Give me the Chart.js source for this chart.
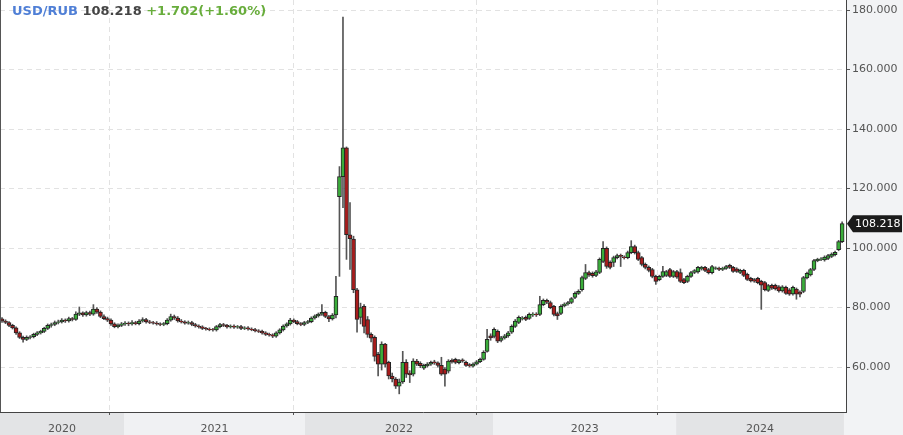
<!DOCTYPE html>
<html>
<head>
<meta charset="utf-8">
<script src="https://cdn.jsdelivr.net/npm/chart.js@4"></script>
<style>
  html, body { margin: 0; padding: 0; background: #fff; }
  #wrap { position: relative; width: 903px; height: 435px; }
  #title {
    position: absolute; left: 12px; top: 3px;
    font: bold 13px "DejaVu Sans", sans-serif; line-height: 16px;
    white-space: nowrap;
  }
  #title .pair { color: #4f7fd6; }
  #title .last { color: #444; }
  #title .chg { color: #68ad3c; }
</style>
</head>
<body>
<div id="wrap">
  <canvas id="fxChart" width="903" height="435"></canvas>
  <div id="title"><span class="pair"></span> <span class="last"></span> <span class="chg"></span></div>
</div>
<script>
// USD/RUB weekly candles, ~May 2020 .. Nov 2024 (index = week)
const pair = 'USD/RUB';
const lastPrice = 108.218;
const dayChange = 1.702;
const dayChangePct = 1.60;

const opens = [
  76.2, 75.5, 75.0, 74.0, 73.2, 71.5, 70.0, 69.3, 70.0, 70.2,
  71.0, 71.5, 72.0, 73.0, 74.0, 74.3, 75.0, 75.2, 75.8, 75.5,
  76.3, 76.0, 77.8, 78.2, 77.5, 78.3, 77.8, 79.5, 78.5, 77.0,
  76.3, 75.8, 74.5, 73.6, 74.0, 74.5, 74.8, 74.5, 75.0, 74.6,
  75.5, 76.0, 75.2, 75.0, 74.8, 74.5, 74.3, 74.6, 75.8, 77.0,
  76.5, 75.5, 75.2, 74.8, 75.0, 74.3, 73.8, 73.5, 73.0, 72.8,
  72.6, 72.5, 73.6, 74.3, 74.0, 73.5, 73.8, 73.4, 73.6, 73.0,
  73.2, 72.8, 72.6, 72.2, 72.0, 71.5, 71.0, 70.8, 70.4, 71.5,
  72.5, 73.8, 74.5, 75.8, 75.3, 74.6, 74.3, 75.0, 75.3, 76.5,
  77.2, 77.8, 78.4, 77.0, 76.2, 77.5, 117.3, 124.0, 133.7, 104.5,
  103.0, 86.0, 76.7, 80.4, 76.0, 71.0, 70.0, 64.3, 61.0, 67.7,
  61.6, 57.0, 56.0, 53.6, 55.0, 61.6, 58.0, 57.6, 62.0, 61.3,
  59.6, 60.4, 61.0, 61.8, 61.4, 60.6, 59.3, 58.6, 62.3, 62.6,
  61.5, 62.4, 61.6, 60.8, 60.3, 61.0, 61.8, 62.6, 65.3, 70.5,
  70.3, 72.0, 69.0, 69.8, 70.5, 71.7, 73.7, 75.0, 76.2, 76.7,
  76.4, 77.5, 77.8, 77.7, 81.0, 82.4, 81.7, 80.4, 78.0, 78.0,
  80.6, 81.2, 81.7, 83.4, 84.8, 86.0, 89.8, 91.8, 91.5, 90.8,
  91.8, 95.5, 99.9, 95.2, 95.2, 96.8, 97.6, 97.0, 96.8, 98.5,
  100.5, 98.5, 96.8, 94.5, 93.5, 92.8, 90.5, 89.4, 90.5, 90.8,
  92.8, 90.5, 92.1, 91.8, 89.4, 88.8, 90.5, 91.8, 92.0, 93.0,
  93.5, 92.8, 91.7, 93.2, 93.2, 92.8, 93.2, 94.2, 93.5, 93.0,
  91.8, 92.5, 91.2, 89.8, 89.4, 89.8, 88.8, 88.4, 85.8, 87.5,
  87.5, 87.0, 85.6, 86.8, 86.0, 84.6, 86.2, 85.2, 85.4, 90.0,
  91.0, 92.8, 95.8, 96.2, 96.0, 96.5, 97.2, 97.8, 99.5, 102.2
];
const highs = [
  76.6, 75.9, 75.3, 74.4, 73.5, 71.9, 70.4, 70.5, 70.6, 71.4,
  71.9, 72.4, 73.4, 74.5, 74.8, 75.5, 75.8, 76.3, 76.2, 76.8,
  76.7, 78.6, 80.2, 78.6, 78.8, 78.8, 81.0, 80.0, 78.9, 77.6,
  76.8, 76.2, 74.9, 74.5, 75.0, 75.3, 75.2, 75.6, 75.4, 76.0,
  76.6, 76.4, 75.7, 75.4, 75.3, 74.9, 75.0, 76.3, 77.8, 77.5,
  77.0, 76.0, 75.6, 75.5, 75.4, 74.7, 74.2, 73.9, 73.4, 73.2,
  73.0, 74.0, 74.7, 74.7, 74.4, 74.2, 74.2, 74.0, 74.0, 73.6,
  73.6, 73.2, 73.0, 72.6, 72.4, 71.9, 71.4, 71.2, 71.9, 72.9,
  74.2, 74.9, 76.4, 76.2, 75.7, 75.0, 75.4, 75.7, 76.9, 77.6,
  78.2, 81.0, 78.8, 77.4, 78.0, 90.5, 127.4, 177.7, 134.0, 115.3,
  104.0, 86.5, 81.5, 81.0, 77.0, 71.5, 70.5, 65.0, 68.5, 68.0,
  62.0, 58.0, 56.5, 56.0, 65.3, 62.5, 58.8, 62.8, 62.6, 61.8,
  61.0, 61.5, 62.0, 62.3, 61.8, 63.3, 59.8, 62.5, 62.8, 63.0,
  62.6, 62.8, 62.0, 61.2, 61.4, 62.2, 63.0, 65.5, 72.7, 71.2,
  73.2, 72.5, 70.3, 71.0, 72.0, 74.2, 76.0, 77.2, 77.0, 77.2,
  78.2, 78.3, 78.3, 83.8, 82.9, 82.9, 82.2, 80.8, 78.5, 80.9,
  81.6, 82.1, 83.4, 85.3, 86.0, 90.6, 94.5, 92.3, 92.0, 92.5,
  96.7, 102.2, 100.4, 95.7, 97.3, 98.0, 98.0, 97.4, 99.0, 102.5,
  101.0, 99.0, 97.2, 95.0, 94.0, 93.2, 90.9, 90.9, 93.9, 92.5,
  93.2, 92.5, 92.5, 93.0, 89.8, 90.9, 92.2, 92.8, 93.9, 93.9,
  93.9, 93.2, 94.2, 93.7, 93.6, 93.6, 94.2, 94.6, 93.9, 93.4,
  92.9, 92.9, 91.6, 90.2, 89.8, 90.2, 89.2, 88.8, 87.8, 87.9,
  87.9, 87.4, 87.4, 87.2, 86.4, 87.2, 86.6, 85.6, 90.5, 91.9,
  93.2, 96.2, 96.6, 96.8, 97.4, 97.9, 98.4, 99.0, 102.6, 108.8
];
const lows = [
  75.0, 74.6, 73.6, 72.8, 71.0, 69.6, 68.4, 68.9, 69.5, 69.8,
  70.6, 71.1, 71.6, 72.6, 73.4, 73.9, 74.5, 74.8, 75.0, 75.1,
  75.5, 75.7, 77.3, 77.0, 77.1, 77.3, 77.4, 78.0, 76.6, 75.9,
  75.3, 74.0, 73.2, 73.2, 73.6, 74.0, 73.9, 74.1, 74.2, 74.2,
  75.1, 74.8, 74.6, 74.4, 74.1, 73.9, 73.9, 74.2, 75.4, 76.0,
  75.1, 74.8, 74.4, 74.4, 73.9, 73.4, 73.1, 72.6, 72.4, 72.2,
  72.1, 72.1, 73.2, 73.6, 73.1, 73.1, 73.0, 73.0, 72.6, 72.6,
  72.4, 72.2, 71.8, 71.6, 71.1, 70.6, 70.4, 69.9, 70.0, 71.1,
  72.1, 73.4, 74.1, 74.9, 74.2, 73.9, 73.9, 74.6, 74.9, 76.1,
  76.8, 77.4, 76.6, 75.3, 75.8, 76.5, 90.5, 113.6, 96.2, 92.8,
  85.0, 71.7, 74.5, 71.5, 70.0, 68.5, 62.0, 57.0, 59.0, 60.0,
  56.0, 55.0, 52.8, 51.0, 54.5, 56.5, 54.8, 57.0, 60.5, 59.8,
  59.2, 60.0, 60.6, 60.9, 60.0, 57.2, 53.6, 58.0, 61.3, 61.1,
  61.1, 61.6, 60.2, 60.0, 60.0, 60.7, 61.5, 62.3, 65.0, 69.0,
  69.8, 68.2, 68.5, 69.4, 70.0, 71.3, 73.3, 74.6, 75.8, 75.6,
  76.0, 77.0, 77.0, 77.3, 80.6, 81.3, 79.6, 77.2, 76.0, 77.6,
  80.2, 80.8, 81.3, 83.0, 84.4, 85.5, 89.4, 90.5, 90.2, 90.4,
  91.4, 95.1, 93.2, 93.0, 93.8, 96.4, 93.8, 96.3, 96.4, 98.1,
  98.0, 95.8, 94.0, 93.0, 92.0, 90.0, 87.8, 89.0, 90.1, 90.4,
  90.1, 90.1, 89.8, 88.4, 88.0, 88.4, 90.1, 91.4, 91.6, 92.6,
  92.1, 91.3, 91.3, 92.8, 92.4, 92.4, 92.8, 93.1, 91.8, 91.8,
  91.4, 90.4, 89.1, 88.6, 88.5, 88.0, 79.4, 85.6, 85.4, 86.1,
  85.9, 85.2, 85.2, 84.4, 84.1, 84.2, 82.8, 83.6, 85.0, 89.6,
  90.6, 92.4, 95.4, 95.8, 95.6, 96.1, 96.8, 97.4, 99.1, 101.8
];
const closes = [
  75.5, 75.0, 74.0, 73.2, 71.5, 70.0, 69.3, 70.0, 70.2, 71.0,
  71.5, 72.0, 73.0, 74.0, 74.3, 75.0, 75.2, 75.8, 75.5, 76.3,
  76.0, 77.8, 78.2, 77.5, 78.3, 77.8, 79.5, 78.5, 77.0, 76.3,
  75.8, 74.5, 73.6, 74.0, 74.5, 74.8, 74.5, 75.0, 74.6, 75.5,
  76.0, 75.2, 75.0, 74.8, 74.5, 74.3, 74.6, 75.8, 77.0, 76.5,
  75.5, 75.2, 74.8, 75.0, 74.3, 73.8, 73.5, 73.0, 72.8, 72.6,
  72.5, 73.6, 74.3, 74.0, 73.5, 73.8, 73.4, 73.6, 73.0, 73.2,
  72.8, 72.6, 72.2, 72.0, 71.5, 71.0, 70.8, 70.4, 71.5, 72.5,
  73.8, 74.5, 75.8, 75.3, 74.6, 74.3, 75.0, 75.3, 76.5, 77.2,
  77.8, 78.4, 77.0, 76.2, 77.5, 83.8, 124.0, 133.7, 104.5, 103.2,
  86.0, 76.0, 80.0, 73.7, 71.0, 69.7, 63.6, 61.0, 67.7, 61.0,
  57.0, 56.0, 53.6, 55.0, 61.6, 57.6, 57.4, 62.0, 61.0, 60.5,
  60.6, 61.0, 61.6, 61.4, 60.6, 57.6, 57.6, 62.0, 61.8, 61.6,
  62.2, 62.0, 60.6, 60.4, 61.0, 61.8, 62.6, 65.0, 69.3, 69.8,
  72.7, 68.7, 69.8, 70.5, 71.5, 73.7, 75.5, 76.7, 76.5, 76.0,
  77.7, 77.8, 77.5, 81.0, 82.4, 81.8, 80.0, 77.7, 77.2, 80.4,
  81.2, 81.7, 83.0, 84.8, 85.5, 90.1, 91.8, 91.0, 90.7, 92.0,
  96.2, 99.9, 93.8, 93.5, 96.8, 97.5, 97.2, 96.8, 98.5, 100.5,
  98.5, 96.2, 94.5, 93.5, 92.5, 90.5, 88.8, 90.5, 92.1, 92.1,
  90.5, 92.1, 90.2, 88.8, 88.4, 90.5, 91.8, 92.4, 93.5, 93.5,
  92.5, 91.7, 93.8, 93.4, 92.8, 93.2, 93.8, 93.5, 92.2, 92.2,
  92.5, 90.8, 89.5, 89.0, 88.9, 88.4, 87.5, 86.0, 87.4, 86.5,
  86.3, 85.6, 87.0, 84.8, 84.5, 86.8, 84.5, 84.5, 90.1, 91.5,
  92.8, 95.8, 96.2, 96.4, 97.0, 97.5, 98.0, 98.6, 102.2, 108.218
];

// x axis: week index where each year band starts (last entry = end of data)
const yearLabels = ['2020', '2021', '2022', '2023', '2024'];
const yearEdges = [-0.57, 34.7, 86.2, 139.7, 191.8, 239.5];
const gridWeeks = [30.7, 82.8, 134.9, 186.6];
const yTicks = [60, 80, 100, 120, 140, 160, 180];
const xMin = -0.57, xMax = 240.1;
const yMin = 44.9, yMax = 183.4;

const UP = '#3aad3a', DOWN = '#a81c1c';

const bodies = closes.map((c, i) => ({ x: i, y: [opens[i], c] }));
const wicks = closes.map((c, i) => ({ x: i, y: [lows[i], highs[i]] }));

document.getElementById('title').children[0].textContent = pair;
document.getElementById('title').children[1].textContent = lastPrice.toFixed(3);
document.getElementById('title').children[2].textContent =
  '+' + dayChange.toFixed(3) + '(+' + dayChangePct.toFixed(2) + '%)';

const frame = {
  id: 'frame',
  beforeDraw(chart) {
    const { ctx, chartArea: a, width, height } = chart;
    const xs = chart.scales.x;
    ctx.save();
    ctx.fillStyle = '#fff';
    ctx.fillRect(0, 0, width, height);
    ctx.fillStyle = '#f2f3f5';
    ctx.fillRect(a.right, 0, width - a.right, height);
    ctx.fillRect(0, a.bottom, width, height - a.bottom);
    for (let k = 0; k < yearLabels.length; k++) {
      const x0 = Math.max(a.left, xs.getPixelForValue(yearEdges[k]));
      const x1 = Math.min(a.right, xs.getPixelForValue(yearEdges[k + 1]));
      ctx.fillStyle = k % 2 === 0 ? '#e3e4e6' : '#f0f1f3';
      ctx.fillRect(x0, a.bottom, x1 - x0, height - a.bottom);
    }
    ctx.restore();
  },
  afterDraw(chart) {
    const { ctx, chartArea: a, width } = chart;
    const ys = chart.scales.y;
    ctx.save();
    ctx.strokeStyle = '#555';
    ctx.lineWidth = 1;
    ctx.beginPath();
    ctx.moveTo(a.left + 0.5, a.top);
    ctx.lineTo(a.left + 0.5, a.bottom);
    ctx.stroke();
    // last price tag
    const y = ys.getPixelForValue(closes[closes.length - 1]);
    ctx.fillStyle = '#1b1b1b';
    ctx.beginPath();
    ctx.moveTo(a.right + 1, y);
    ctx.lineTo(a.right + 7, y - 8.5);
    ctx.lineTo(width - 1, y - 8.5);
    ctx.lineTo(width - 1, y + 8.5);
    ctx.lineTo(a.right + 7, y + 8.5);
    ctx.closePath();
    ctx.fill();
    ctx.fillStyle = '#fff';
    ctx.font = '11px "DejaVu Sans"';
    ctx.textBaseline = 'middle';
    ctx.fillText(lastPrice.toFixed(3), a.right + 9, y + 0.5);
    ctx.restore();
  }
};

Chart.defaults.font.family = '"DejaVu Sans", sans-serif';

new Chart(document.getElementById('fxChart'), {
  type: 'bar',
  data: {
    datasets: [
      {
        label: 'body',
        data: bodies,
        xAxisID: 'x',
        yAxisID: 'y',
        order: 0,
        grouped: false,
        barThickness: 4,
        borderWidth: 1,
        borderSkipped: false,
        borderColor: '#242424',
        backgroundColor: ctx => {
          const i = ctx.dataIndex;
          return closes[i] >= opens[i] ? UP : DOWN;
        }
      },
      {
        label: 'wick',
        data: wicks,
        xAxisID: 'x',
        yAxisID: 'y',
        order: 1,
        grouped: false,
        barThickness: 1,
        borderWidth: 0,
        backgroundColor: '#555555'
      }
    ]
  },
  options: {
    responsive: false,
    animation: false,
    layout: { padding: 0 },
    plugins: { legend: { display: false }, tooltip: { enabled: false } },
    scales: {
      x: {
        type: 'linear',
        position: 'bottom',
        weight: 1,
        offset: false,
        bounds: 'data',
        min: xMin,
        max: xMax,
        afterBuildTicks: s => {
          s.ticks = yearLabels.map((_, k) => ({ value: (yearEdges[k] + yearEdges[k + 1]) / 2 }));
        },
        afterFit: s => { s.height = 23; s.paddingLeft = 0; s.paddingRight = 0; },
        ticks: {
          padding: 3,
          maxRotation: 0,
          autoSkip: false,
          color: '#555',
          font: { size: 11 },
          callback: (v, i) => yearLabels[i]
        },
        grid: { display: false, offset: false },
        border: { display: true, color: '#444', width: 1 }
      },
      xg: {
        type: 'linear',
        position: 'bottom',
        weight: 0,
        offset: false,
        bounds: 'data',
        min: xMin,
        max: xMax,
        afterBuildTicks: s => { s.ticks = gridWeeks.map(v => ({ value: v })); },
        afterFit: s => { s.height = 0; s.paddingLeft = 0; s.paddingRight = 0; },
        ticks: { display: false },
        grid: { offset: false, color: '#e2e2e2', tickColor: '#555', tickLength: 3 },
        border: { display: false, dash: [5, 4] }
      },
      y: {
        type: 'linear',
        position: 'right',
        min: yMin,
        max: yMax,
        afterBuildTicks: s => { s.ticks = yTicks.map(v => ({ value: v })); },
        afterFit: s => { s.width = 57; s.paddingTop = 0; s.paddingBottom = 0; },
        ticks: {
          padding: 2,
          color: '#555',
          font: { size: 11 },
          callback: v => v.toFixed(3)
        },
        grid: { color: '#e2e2e2', tickColor: '#555', tickLength: 4 },
        border: { display: true, color: '#444', width: 1, dash: [5, 4] }
      }
    }
  },
  plugins: [frame]
});
</script>
</body>
</html>
